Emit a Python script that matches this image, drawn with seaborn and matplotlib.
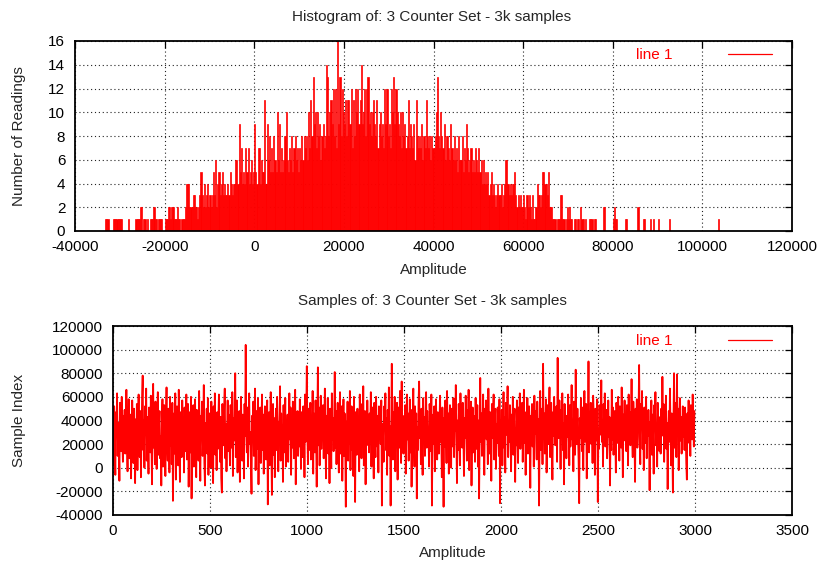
import numpy as np
import pandas as pd
import matplotlib
matplotlib.use("Agg")
import matplotlib.pyplot as plt
from matplotlib.lines import Line2D
import seaborn as sns

# ---------------- data ----------------
hist_title = "Histogram of: 3 Counter Set - 3k samples"
samp_title = "Samples of: 3 Counter Set - 3k samples"
legend_label = "line 1"

# histogram: bins of 250 starting at -34000 (counts)
hist_start = -34000
hist_binwidth = 250
hist_counts = [
    0,0,0,1, 1,1,0,0, 0,0,1,1, 1,1,1,1, 1,1,0,0, 0,0,0,1, 0,0,0,0, 0,0,1,1,
    1,1,2,2, 0,1,1,0, 1,0,0,1, 1,1,2,1, 1,0,1,1, 1,1,0,0, 1,1,1,2, 2,1,2,2,
    1,1,1,2, 1,1,0,1, 1,1,2,4, 4,4,2,2, 2,3,3,2, 2,1,2,3, 5,3,2,4, 2,3,4,2,
    3,2,3,5, 3,6,2,4, 5,3,4,5, 3,4,3,3, 4,3,5,4, 3,4,4,6, 6,4,9,5, 7,4,5,4,
    7,5,7,4, 5,6,4,5, 9,5,4,7, 7,4,6,5, 5,11,4,9, 6,8,5,7, 5,8,6,5, 10,6,9,5,
    7,5,6,8, 10,6,5,7, 6,8,5,7, 8,6,7,5, 7,6,8,6, 8,7,8,6, 10,7,11,8, 13,9,10,7,
    10,8,9,6, 8,9,7,8, 14,13,8,10, 11,9,12,8, 12,7,16,9, 13,8,12,10, 9,11,8,11,
    11,9,12,7, 11,8,12,10, 12,9,11,14, 9,10,12,8, 12,13,9,10, 8,10,11,9, 8,11,7,9,
    10,8,9,7, 12,9,12,8, 9,7,12,10, 13,9,12,10, 9,8,10,7, 10,8,9,7, 8,11,7,9,
    8,7,9,6, 11,8,7,8, 7,9,6,8, 7,11,8,7, 8,6,8,7, 7,8,10,13, 8,7,10,8,
    7,9,6,8, 8,7,6,9, 7,6,8,6, 7,5,8,6, 6,8,5,7, 6,9,7,5, 6,7,5,6, 5,7,6,5,
    7,5,6,4, 6,4,5,4, 5,3,4,5, 3,4,3,2, 3,4,3,3, 4,2,3,4, 6,6,4,3, 4,3,4,4,
    5,3,2,3, 2,3,2,2, 3,2,1,3, 2,3,2,1, 3,1,1,2, 4,3,3,2, 3,5,5,4, 4,3,5,2,
    2,2,1,1, 1,0,1,1, 1,3,3,1, 1,0,1,2, 1,2,1,1, 0,1,1,0, 1,1,0,2, 1,1,0,1,
    0,0,0,1, 1,1,0,1, 1,0,0,0, 0,0,0,2, 2,0,0,0, 0,0,0,0, 1,2,1,1, 0,0,0,0,
    0,0,0,1, 1,0,0,0, 0,0,0,0, 0,0,2,0, 0,0,0,1, 1,0,0,0, 0,1,0,0, 1,0,0,0,
    1,0,0,0, 0,0,0,0, 0,0,1,0, 0,0,0,0, 0,0,0,0, 0,0,0,0, 0,0,0,0, 0,0,0,0,
    0,0,0,0, 0,0,0,0, 0,0,0,0, 0,0,0,0, 0,0,0,0, 0,0,1,0,
]

# samples (every 3rd sample of 3000, values in thousands)
sample_step = 3
samples_k = [
    31,2,52,18,-6,47,27,63,10,38,22,-11,55,33,14,60,24,5,44,29,
    49,12,33,66,19,-3,37,58,8,26,45,-9,21,57,35,4,50,16,-13,41,
    20,54,-2,36,62,25,9,48,-8,30,59,78,15,40,0,52,28,67,6,43,
    26,-5,51,34,13,61,22,-14,46,71,17,39,3,56,29,-1,42,64,11,35,
    48,8,27,-15,38,58,1,31,53,18,-7,44,68,24,6,50,33,-4,60,19,
    37,3,55,-28,25,46,12,63,-10,36,52,21,2,66,30,-12,47,26,9,57,
    23,43,-4,51,14,35,62,7,28,54,-16,32,47,13,60,-26,39,20,53,1,
    30,58,17,-8,49,25,41,6,65,22,-11,44,31,56,10,27,70,4,-15,38,
    24,50,12,59,-6,34,46,18,0,56,28,41,-13,52,21,63,11,33,-2,47,
    16,39,62,26,5,43,-9,-21,54,31,19,50,67,8,37,-3,25,57,14,45,
    28,2,53,34,17,64,-7,42,23,49,80,9,32,57,-4,38,18,48,-12,29,
    60,21,6,45,36,-9,54,27,104,33,13,51,1,40,63,20,30,5,-22,44,
    25,56,10,35,67,-2,28,48,16,59,-14,38,23,51,4,31,62,15,45,-5,
    33,52,20,7,41,57,-31,29,47,2,37,64,18,-23,30,54,11,42,-8,26,
    50,15,60,32,-3,39,26,69,6,46,21,36,-12,53,13,28,59,1,38,19,
    45,5,31,63,24,51,-6,34,17,56,41,8,29,66,-14,36,25,48,10,32,
    18,58,38,-1,47,26,9,52,33,-8,62,22,42,86,28,3,50,15,35,55,
    7,40,24,65,-5,46,30,13,57,25,-16,37,85,19,51,2,32,61,16,41,
    29,53,8,34,67,22,-9,44,27,59,12,38,-13,50,31,0,63,24,42,14,
    35,81,17,48,3,32,55,25,-4,41,64,12,34,52,-11,28,58,10,46,22,
    -33,39,26,56,6,45,20,65,-2,33,52,15,40,-7,60,25,-29,47,31,11,
    50,16,37,-3,62,27,43,8,54,24,69,2,32,48,-14,40,19,57,29,36,
    13,46,27,64,1,38,51,22,-9,55,30,9,60,34,18,44,-4,52,25,41,
    20,57,-32,37,29,5,52,32,63,15,42,-6,49,26,68,10,35,-32,24,88,
    32,7,47,25,60,-3,39,22,55,-10,34,51,17,65,29,4,73,27,44,12,
    38,16,53,-5,30,62,24,46,6,35,58,13,49,-16,27,41,67,21,1,52,
    28,46,-26,34,15,56,73,25,40,3,50,30,-6,59,22,43,10,36,64,17,
    48,23,33,1,54,38,14,62,-32,30,45,20,52,-3,35,58,26,7,47,29,
    12,40,61,22,31,-8,51,27,-33,42,18,57,34,4,65,25,46,-5,37,53,
    29,0,50,38,18,59,9,44,31,70,24,-13,40,15,54,33,2,63,26,47,
    17,55,30,-7,42,25,61,36,6,49,27,66,-2,39,21,56,-15,32,51,13,
    44,26,5,59,33,16,53,1,40,-26,29,76,22,46,10,36,62,18,-6,50,
    31,57,24,39,3,67,27,12,47,34,-11,54,25,42,62,7,30,50,-1,37,
    21,51,35,10,58,-30,40,26,49,2,32,64,17,43,-4,55,28,38,69,9,
    36,22,53,30,-3,45,25,60,11,39,50,-12,33,19,57,27,4,51,31,63,
    16,42,28,55,5,35,66,21,47,-6,37,26,59,12,31,52,24,-17,44,33,
    54,18,39,1,61,29,48,24,7,56,32,41,-32,26,65,15,36,50,3,88,
    25,46,12,36,58,-4,30,53,20,42,68,9,34,55,24,-10,47,27,60,37,
    19,35,52,5,93,31,25,57,40,-1,49,29,63,15,38,-14,54,22,33,8,
    44,26,62,32,2,53,18,40,70,24,35,-3,56,30,11,83,37,20,50,27,
    6,-30,42,25,59,33,14,51,-2,38,65,22,31,54,-9,36,26,90,13,47,
    30,55,20,37,4,61,45,27,-6,50,23,41,58,-29,33,16,53,28,39,74,
    22,40,1,54,31,63,18,36,49,8,29,57,26,43,-15,35,15,66,24,51,
    11,34,48,27,-4,55,38,21,60,31,6,52,39,17,68,26,-8,45,32,57,
    23,42,14,53,35,2,62,28,47,19,37,75,27,9,56,40,25,-12,50,30,
    58,17,36,46,87,26,3,54,33,65,16,40,-2,51,30,21,60,8,42,27,
    49,32,-19,39,23,57,11,45,28,-5,53,34,64,19,37,1,55,26,43,14,
    36,12,50,27,77,33,54,5,41,24,61,16,38,-18,31,48,22,67,30,2,
    46,25,-21,40,80,17,36,55,9,79,28,50,-2,37,59,23,43,12,33,52,
    26,41,15,51,31,4,-10,46,28,57,21,37,10,53,33,24,62,40,18,48,
]

hist_xticks = [-40000, -20000, 0, 20000, 40000, 60000, 80000, 100000, 120000]
hist_yticks = [0, 2, 4, 6, 8, 10, 12, 14, 16]
samp_xticks = [0, 500, 1000, 1500, 2000, 2500, 3000, 3500]
samp_yticks = [-40000, -20000, 0, 20000, 40000, 60000, 80000, 100000, 120000]

# ---------------- style ----------------
sns.set_style("white")
plt.rcParams["font.family"] = ["Liberation Sans", "DejaVu Sans"]
plt.rcParams["axes.unicode_minus"] = False
FS = 11
plt.rcParams["font.size"] = FS

W, H = 822, 566
fig = plt.figure(figsize=(W / 100, H / 100), dpi=100)

def px_axes(l, t, r, b):
    return fig.add_axes([l / W, 1 - b / H, (r - l) / W, (b - t) / H])

ax1 = px_axes(75, 41, 792, 231)
ax2 = px_axes(113, 326, 792, 515)

# histogram
counts = np.array(hist_counts, dtype=float)
edges = hist_start + hist_binwidth * np.arange(len(counts) + 1)
hist_df = pd.DataFrame({"amp": edges[:-1] + hist_binwidth / 2, "count": counts})
sns.histplot(data=hist_df, x="amp", weights="count", bins=[float(e) for e in edges],
             element="bars", fill=True, color="#ff0000", alpha=1.0,
             edgecolor="#ff0000", linewidth=0.5, ax=ax1)

# samples
samp_df = pd.DataFrame({"idx": np.arange(len(samples_k)) * sample_step,
                        "val": np.array(samples_k, dtype=float) * 1000})
sns.lineplot(data=samp_df, x="idx", y="val", color="#ff0000", linewidth=1.3,
             estimator=None, sort=False, ax=ax2)

xlab_y_of = {}
xlab_y_of[ax1] = (231 - 270) / 190
xlab_y_of[ax2] = (515 - 553) / 189

def style_axes(ax, xlim, ylim, xticks, yticks, xlabel, ylabel, ylab_x, leg_xy):
    ax.set_xlim(*xlim)
    ax.set_ylim(*ylim)
    ax.set_xticks(xticks)
    ax.set_yticks(yticks)
    ax.set_axisbelow(True)
    ax.grid(True, color="#222222", linestyle=(0, (1, 2.5)), linewidth=0.8)
    ax.tick_params(direction="in", top=True, right=True, length=5, width=0.9,
                   labelsize=FS, colors="black")
    ax.tick_params(axis="y", pad=7)
    ax.tick_params(axis="x", pad=6.4)
    for s in ax.spines.values():
        s.set_color("black")
        s.set_linewidth(1.3)
        s.set_zorder(3)
    ax.set_xlabel(xlabel, fontsize=FS)
    ax.set_ylabel(ylabel, fontsize=FS)
    ax.xaxis.set_label_coords(0.5, xlab_y_of[ax])
    ax.xaxis.label.set_va("center")
    ax.yaxis.set_label_coords(ylab_x, 0.5)
    ax.yaxis.label.set_va("center")
    h = Line2D([], [], color="#ff0000", linewidth=0.9)
    ax.legend([h], [legend_label], loc="center right", bbox_to_anchor=leg_xy,
              frameon=False, markerfirst=False, handlelength=2.9,
              handletextpad=3.6, borderpad=0, borderaxespad=0,
              labelcolor="#ff0000", fontsize=FS)

style_axes(ax1, (-40000, 120000), (0, 16), hist_xticks, hist_yticks,
           "Amplitude", "Number of Readings", (19 - 75) / 717,
           ((772 - 75) / 717, 1 - 14 / 190))
style_axes(ax2, (0, 3500), (-40000, 120000), samp_xticks, samp_yticks,
           "Amplitude", "Sample Index", (19 - 113) / 679,
           ((772 - 113) / 679, 1 - 15 / 189))

fig.text(432 / W, 1 - 17 / H, hist_title, ha="center", va="center", fontsize=FS)
fig.text(432 / W, 1 - 301 / H, samp_title, ha="center", va="center", fontsize=FS)

fig.savefig("out.png", dpi=100)
